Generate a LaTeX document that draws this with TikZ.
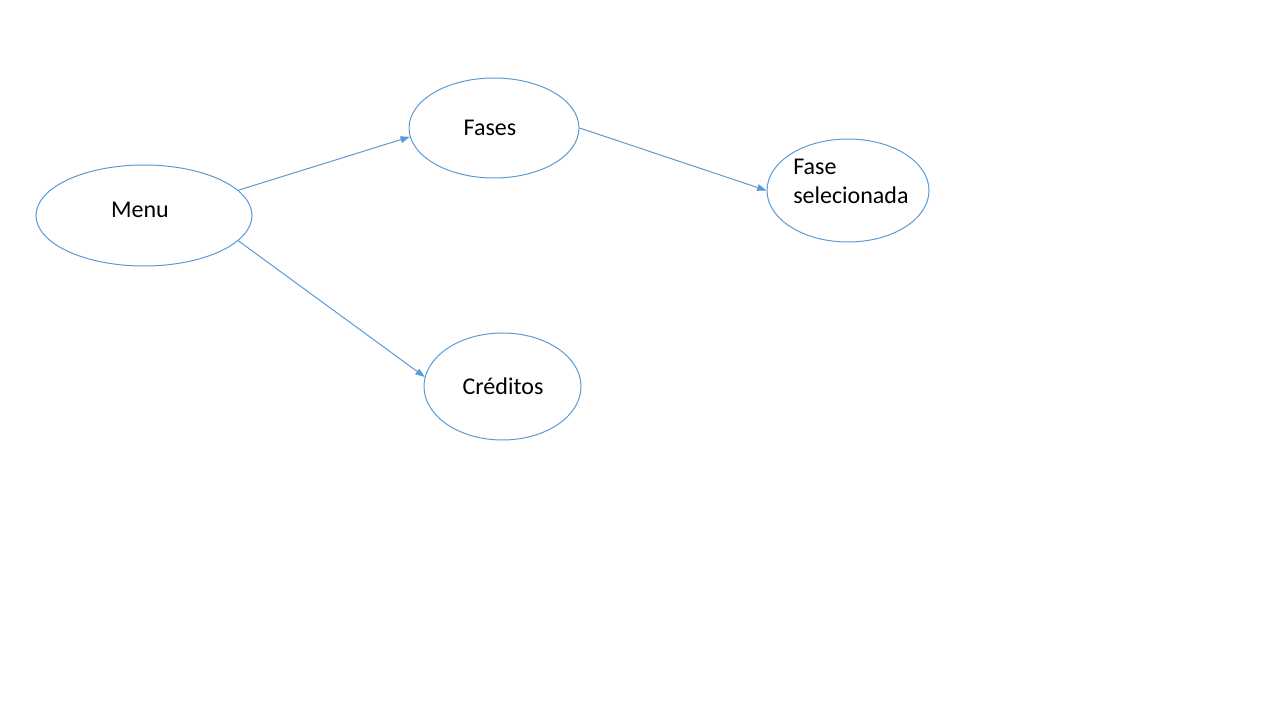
\documentclass[tikz,border=0pt]{standalone}
\usepackage{fontspec}
\setmainfont{Carlito}
\usetikzlibrary{shapes.geometric,arrows.meta}
\definecolor{shapeblue}{RGB}{91,155,213}
\tikzset{state/.style={draw=shapeblue,line width=0.75pt,ellipse,inner sep=0pt},
  txt/.style={font=\fontsize{18pt}{21.75pt}\selectfont,inner sep=0pt},
  flow/.style={draw=shapeblue,line width=0.75pt,-{Triangle[length=7pt,width=5pt]}}}

\begin{document}
\begin{tikzpicture}[x=0.75pt,y=-0.75pt]
    % page
    \useasboundingbox[fill=white] (0,0) rectangle (1280,720);

    % ellipses
    \node[state,minimum width=162pt,minimum height=75.75pt] (menu) at (144,215.5) {};
    \node[state,minimum width=127.5pt,minimum height=75pt] (fases) at (494,128) {};
    \node[state,minimum width=121.5pt,minimum height=77.25pt] (sel) at (848,190.5) {};
    \node[state,minimum width=117.75pt,minimum height=80.25pt] (cred) at (502.5,386.5) {};

    % texts
    \node[txt] (menutext) at (140,210) {Menu};
    \node[txt] (fasestext) at (490,128) {Fases};
    \node[txt,align=left,anchor=west] (seltext) at (793,181) {Fase\\selecionada};
    \node[txt] (credtext) at (503,386) {Créditos};

    % arrows
    \draw[flow] (menu.15) -- (fases.186);
    \draw[flow] (fases.east) -- (sel.west);
    \draw[flow] (menu.-15) -- (cred.173);
  \end{tikzpicture}
\end{document}
